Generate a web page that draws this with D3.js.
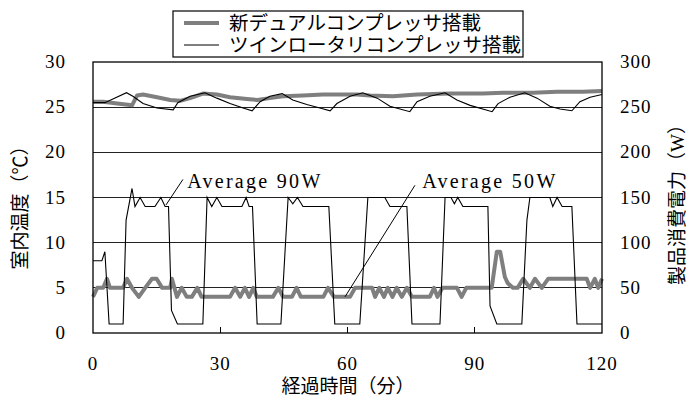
<!DOCTYPE html>
<html><head><meta charset="utf-8">
<script src="https://cdn.jsdelivr.net/npm/d3@7"></script>
<style>
body{margin:0;background:#fff;}
</style></head>
<body><svg id="c" width="700" height="417"></svg>
<script>
// ---- data ----
const seriesNames = ["新デュアルコンプレッサ搭載", "ツインロータリコンプレッサ搭載"];
const xTicks = [0, 30, 60, 90, 120];
const tempTicks = [0, 5, 10, 15, 20, 25, 30];
const powerTicks = [0, 50, 100, 150, 200, 250, 300];
const xTitle = "経過時間（分）";
const leftTitle = "室内温度（℃）";
const rightTitle = "製品消費電力（W）";

// temperature (°C) — new dual compressor (thick gray)
const dualTempT = [0,2.4,5.7,9.2,10.4,11.8,15.1,18.2,20.5,22.9,25.9,29.2,32.3,36.3,38.7,41.7,44.8,49.5,54.2,62.2,65.3,70.7,76.4,84.2,91.9,96.7,103.8,109.4,115.5,120];
const dualTempV = [25.6,25.6,25.4,25.2,26.3,26.4,26.1,25.8,25.7,26.0,26.5,26.4,26.1,25.9,25.8,26.0,26.2,26.3,26.4,26.4,26.3,26.2,26.4,26.5,26.5,26.6,26.6,26.7,26.7,26.8];
// temperature (°C) — twin rotary (thin black)
const twinTempT = [0,2.8,7.9,9.4,11.8,15.1,18.9,20,22.9,26.4,29.2,32.3,35.4,37.5,39.4,41.7,44.6,47.1,50.4,53.5,55.9,57.5,60.6,63.6,67,70,74.7,76.4,79.4,83,85.8,88.9,94.1,95.5,98.3,101.8,104.7,107.7,110.1,112.9,114.8,117.2,120];
const twinTempV = [25.5,25.5,26.6,26.2,25.4,24.9,24.7,25.5,26.2,26.6,26.0,25.4,24.9,24.6,25.6,26.2,26.5,25.8,25.3,24.9,24.6,25.4,26.2,26.6,26.0,25.1,24.5,25.6,26.2,26.6,25.8,25.2,24.5,25.4,26.1,26.6,26.0,25.1,24.8,24.6,25.6,26.1,26.4];
// power (W) — new dual compressor (thick gray)
const dualPowT = [0,1,2.4,3.3,4,7.1,8,9.2,10.8,12.3,13.9,15,16.3,18.2,18.6,19.8,20.9,22.1,23.3,24.6,25.6,32.3,33.5,34.7,35.8,36.8,37.8,38.6,42.4,43.7,44.8,46.9,48,49,54.3,55.4,56.8,60.6,61.8,65.8,66.5,67.5,68.6,69.5,70.6,71.6,72.8,74,75.2,79.4,80.4,81.2,82.4,85.8,86.9,88,94,95.2,96,97.1,97.8,99,100.1,101.4,103,104.2,105.8,107.3,116.4,117.2,118.3,119.1,120];
const dualPowV = [40,50,50,60,50,50,60,50,40,50,60,60,50,50,60,40,50,40,40,50,40,40,50,40,50,40,50,40,40,50,40,40,50,40,40,50,40,40,50,50,40,50,40,50,40,50,40,50,40,40,50,40,50,50,40,50,50,90,90,62,55,50,50,60,50,60,50,60,60,50,60,50,60];
// power (W) — twin rotary (thin black)
const twinPowT = [0,2.1,2.8,3.8,7.1,7.8,9.2,9.9,11.1,12.3,14.6,16,17,17.8,18.5,19.9,25.9,26.9,28,29.2,30.4,35.1,36.1,36.8,37.6,38.7,44.3,46,47.1,48.2,49.5,55.6,57,62.9,64.8,68.8,70,74,75.2,81.8,83,84.4,85.2,86,87.2,93.1,93.6,95.2,101.1,102.3,103,107.7,108.4,109.4,110.6,112.9,114.1,120];
const twinPowV = [80,80,90,10,10,125,160,140,150,140,140,150,140,140,25,10,10,150,140,150,140,140,150,140,140,10,10,150,143,150,140,140,10,10,150,150,140,140,10,10,150,150,143,150,140,140,30,10,10,125,150,150,140,150,140,140,10,10];

// annotations
const annoText = ["Average 90W", "Average 50W"];
const annoTextT = [22.2, 77.6];
const annoTextW = [160.5, 160.5];
const annoFromT = [21.2, 75.9];
const annoFromW = [170, 163.5];
const annoToT = [17.2, 59.4];
const annoToW = [141.7, 40];

// ---- chart ----
const LATIN = "Liberation Serif";
const CJK = "Liberation Serif, Noto Sans CJK JP";
const svg = d3.select("#c");
const L = 93, R = 602, T = 62, B = 333;
const x = d3.scaleLinear().domain([0, 120]).range([L, R]);
const yT = d3.scaleLinear().domain([0, 30]).range([B, T]);
const yP = d3.scaleLinear().domain([0, 300]).range([B, T]);

// gridlines
svg.append("g").selectAll("line").data(tempTicks.slice(1, -1)).join("line")
  .attr("x1", L).attr("x2", R).attr("y1", d => yT(d)).attr("y2", d => yT(d))
  .attr("stroke", "#222").attr("stroke-width", 1).attr("shape-rendering", "crispEdges");

// x ticks (inward)
svg.append("g").selectAll("line").data(xTicks.slice(1, -1)).join("line")
  .attr("x1", d => x(d)).attr("x2", d => x(d)).attr("y1", B).attr("y2", B - 6)
  .attr("stroke", "#000").attr("stroke-width", 1).attr("shape-rendering", "crispEdges");

const zip = (a, b) => a.map((v, i) => [v, b[i]]);
const lineT = d3.line().x(d => x(d[0])).y(d => yT(d[1]));
const lineP = d3.line().x(d => x(d[0])).y(d => yP(d[1]));

const gray = "#7f7f7f";
svg.append("path").attr("d", lineT(zip(dualTempT, dualTempV))).attr("fill", "none").attr("stroke", gray).attr("stroke-width", 4).attr("stroke-linejoin", "round");
svg.append("path").attr("d", lineP(zip(dualPowT, dualPowV))).attr("fill", "none").attr("stroke", gray).attr("stroke-width", 4).attr("stroke-linejoin", "round");
svg.append("path").attr("d", lineT(zip(twinTempT, twinTempV))).attr("fill", "none").attr("stroke", "#000").attr("stroke-width", 1.1);
svg.append("path").attr("d", lineP(zip(twinPowT, twinPowV))).attr("fill", "none").attr("stroke", "#000").attr("stroke-width", 1.1);

// frame
svg.append("rect").attr("x", L).attr("y", T).attr("width", R - L).attr("height", B - T)
  .attr("fill", "none").attr("stroke", "#000").attr("stroke-width", 1.3);

// tick labels
function lbl(g) { return g.attr("font-family", LATIN).attr("font-size", 19).attr("letter-spacing", 1).attr("fill", "#000"); }
lbl(svg.append("g").selectAll("text").data(tempTicks).join("text")
  .attr("x", 66).attr("y", d => yT(d) + 6).attr("text-anchor", "end")).text(d => d);
lbl(svg.append("g").selectAll("text").data(powerTicks).join("text")
  .attr("x", 620).attr("y", d => yP(d) + 6).attr("text-anchor", "start")).text(d => d);
lbl(svg.append("g").selectAll("text").data(xTicks).join("text")
  .attr("x", d => x(d)).attr("y", 370).attr("text-anchor", "middle")).text(d => d);

// axis titles
svg.append("text").attr("x", 348).attr("y", 393).attr("text-anchor", "middle")
  .attr("font-family", CJK).attr("font-size", 19).text(xTitle);
svg.append("text").attr("transform", "translate(27,203) rotate(-90)").attr("text-anchor", "middle")
  .attr("font-family", CJK).attr("font-size", 19).text(leftTitle);
svg.append("text").attr("transform", "translate(684,200) rotate(-90)").attr("text-anchor", "middle")
  .attr("font-family", CJK).attr("font-size", 19).text(rightTitle);

// annotations
annoText.forEach((t, i) => {
  svg.append("line").attr("x1", x(annoFromT[i])).attr("y1", yP(annoFromW[i]))
    .attr("x2", x(annoToT[i])).attr("y2", yP(annoToW[i])).attr("stroke", "#000").attr("stroke-width", 1);
  svg.append("text").attr("x", x(annoTextT[i])).attr("y", yP(annoTextW[i]))
    .attr("font-family", LATIN).attr("font-size", 20).attr("letter-spacing", 2.3).text(t);
});

// legend
const lg = svg.append("g");
lg.append("rect").attr("x", 173).attr("y", 11).attr("width", 350).attr("height", 46)
  .attr("fill", "#fff").attr("stroke", "#000").attr("stroke-width", 1.2);
const legRows = [{c: gray, w: 4}, {c: "#000", w: 1.2}];
seriesNames.forEach((n, i) => {
  const yy = 23 + i * 22;
  lg.append("line").attr("x1", 184).attr("x2", 219).attr("y1", yy).attr("y2", yy)
    .attr("stroke", legRows[i].c).attr("stroke-width", legRows[i].w);
  lg.append("text").attr("x", 229).attr("y", yy + 7)
    .attr("font-family", CJK).attr("font-size", 19.5).text(n);
});
</script></body></html>
